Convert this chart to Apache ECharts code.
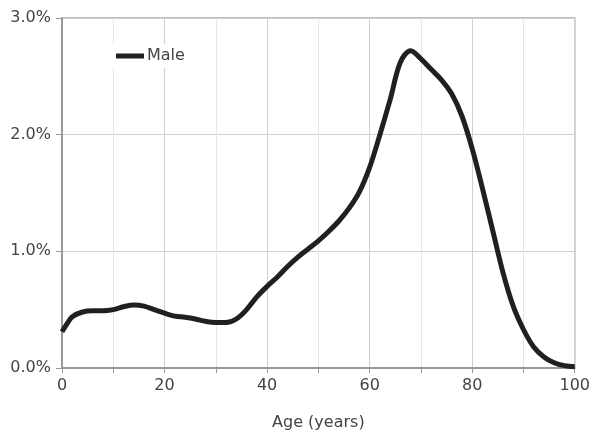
<!DOCTYPE html>
<html><head><meta charset="utf-8">
<script src="https://cdn.jsdelivr.net/npm/echarts@6/dist/echarts.min.js"></script>
<style>html,body{margin:0;padding:0;background:#fff}#c{width:593px;height:436px}</style>
</head><body><div id="c"></div>
<script>
const ages = [0,1,2,4,6,8,10,12,14,16,18,20,22,24,26,28,30,32,34,36,38,40,42,44,46,48,50,52,54,56,58,60,62,64,66,68,70,72,74,76,78,80,82,84,86,88,90,92,94,96,98,100];
const male = [0.31,0.38,0.44,0.48,0.49,0.49,0.50,0.525,0.54,0.53,0.50,0.47,0.445,0.435,0.42,0.40,0.39,0.39,0.42,0.50,0.61,0.70,0.78,0.87,0.95,1.02,1.09,1.17,1.26,1.37,1.51,1.72,2.00,2.30,2.62,2.72,2.65,2.56,2.47,2.35,2.16,1.88,1.54,1.18,0.82,0.53,0.33,0.18,0.095,0.045,0.02,0.01];
const xTicks = [0,20,40,60,80,100];
const yTicks = [0,1,2,3];
const FONT = '"DejaVu Sans", sans-serif';
const chart = echarts.init(document.getElementById('c'));
chart.setOption({
  animation:false,
  textStyle:{fontFamily:FONT},
  grid:{left:62,right:16,top:18,bottom:68,show:true,borderColor:'#aaa',borderWidth:1.5},
  legend:{show:true,left:110,top:44,backgroundColor:'#fff',padding:[4,6],icon:'rect',itemWidth:28,itemHeight:5,itemGap:4,
    textStyle:{fontFamily:FONT,fontSize:16,color:'#444',padding:[0,0,0,-2]},data:['Male']},
  xAxis:{type:'value',min:0,max:100,interval:10,name:'Age (years)',nameLocation:'middle',nameGap:47,
    nameTextStyle:{fontFamily:FONT,fontSize:16,color:'#444'},
    axisLine:{lineStyle:{color:'#999',width:2}},
    axisTick:{show:true,length:5,lineStyle:{color:'#999'}},
    axisLabel:{fontFamily:FONT,fontSize:16,color:'#444',margin:10,formatter:v=>xTicks.includes(v)?String(v):''},
    splitLine:{show:true,lineStyle:{color:['#d0d0d0','#e6e6e6'],width:1}}},
  yAxis:{type:'value',min:0,max:3,interval:1,
    axisLine:{show:true,lineStyle:{color:'#999',width:2}},
    axisTick:{show:true,length:6,lineStyle:{color:'#999'}},
    axisLabel:{fontFamily:FONT,fontSize:16,color:'#444',margin:11,formatter:v=>yTicks.includes(v)?v.toFixed(1)+'%':''},
    splitLine:{show:true,lineStyle:{color:'#d0d0d0',width:1}}},
  series:[{name:'Male',type:'line',smooth:0.35,symbol:'none',
    lineStyle:{color:'#231f20',width:5},itemStyle:{color:'#231f20'},
    data:ages.map((a,i)=>[a,male[i]])}]
});
</script></body></html>
